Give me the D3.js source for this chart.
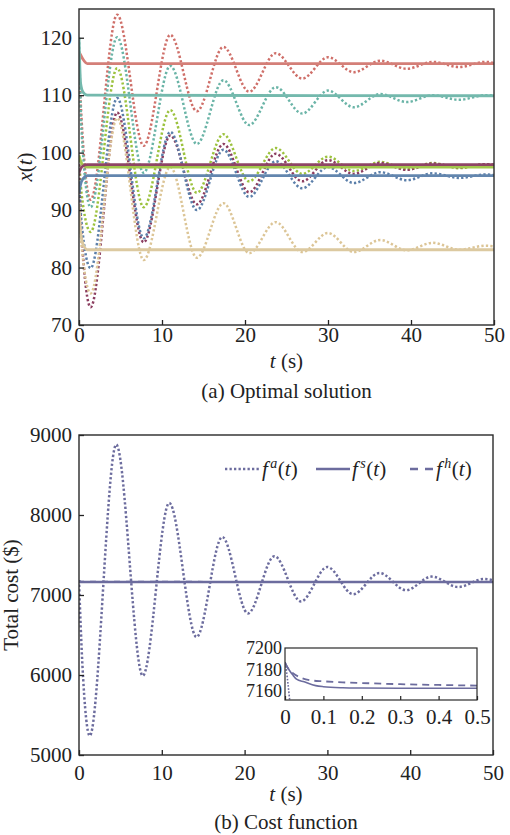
<!DOCTYPE html>
<html><head><meta charset="utf-8">
<script src="https://cdn.jsdelivr.net/npm/d3@7"></script>
<style>
html,body{margin:0;padding:0;background:#fff;}
svg, svg text{font-family:"Liberation Serif","Times New Roman","DejaVu Serif",serif !important;}
</style></head>
<body><svg id="c" width="510" height="835"></svg>
<script>
// ---------- data: (a) optimal solution ----------
const xTicks = [0, 10, 20, 30, 40, 50];
const yTicksA = [70, 80, 90, 100, 110, 120];
const seriesNames = ["x1", "x2", "x3", "x4", "x5", "x6"];
// dotted (f^a) trajectories: time knots and values per series
const tDot = [0, 0.3, 1.4, 4.6, 7.8, 11.0, 14.2, 17.4, 20.5, 23.7, 26.9, 30.0, 33.1, 36.3, 39.5, 42.6, 45.8, 49.0, 50];
const dotRed    = [117, 106, 91.8, 124.0, 101.2, 120.5, 107.2, 118.4, 110.6, 117.3, 112.9, 116.6, 114.0, 116.0, 114.6, 115.8, 114.9, 115.8, 115.6];
const dotTeal   = [120, 104, 90.5, 120.1, 96.5, 115.1, 101.5, 112.6, 104.8, 111.4, 106.8, 110.8, 107.9, 110.2, 108.8, 110.0, 109.2, 110.0, 109.9];
const dotGreen  = [99.5, 93, 86.2, 114.7, 90.5, 107.4, 93.0, 103.2, 95.0, 100.8, 96.3, 99.3, 96.8, 98.4, 97.1, 98.2, 97.3, 98.0, 97.9];
const dotMaroon = [98, 86, 73.1, 107.0, 84.4, 103.0, 91.0, 101.5, 93.1, 99.8, 95.0, 98.7, 96.3, 98.2, 97.0, 98.1, 97.4, 98.0, 97.9];
const dotBlue   = [95, 88, 79.9, 109.5, 85.1, 103.6, 90.0, 100.5, 92.3, 98.5, 93.8, 97.5, 94.7, 96.6, 95.2, 96.4, 95.6, 96.2, 96.1];
const dotTan    = [91, 84, 75.5, 106.0, 81.3, 97.5, 81.7, 91.2, 82.5, 87.9, 82.7, 86.0, 82.7, 84.8, 83.0, 84.3, 83.1, 83.8, 83.7];
// solid (f^s) trajectories
const tSol = [0, 0.2, 0.5, 1.0, 50];
const solRed    = [117.5, 117.0, 116.2, 115.5, 115.5];
const solTeal   = [120, 112, 110.5, 110.0, 109.9];
const solGreen  = [99.5, 98.5, 97.8, 97.5, 97.5];
const solMaroon = [96.5, 97.2, 97.7, 97.9, 97.9];
const solBlue   = [93, 94.5, 95.5, 96.0, 96.0];
const solTan    = [91, 86, 84, 83.1, 83.1];

// ---------- data: (b) cost function ----------
const yTicksB = [5000, 6000, 7000, 8000, 9000];
const tCost = [0, 0.4, 1.3, 4.5, 7.7, 10.9, 14.2, 17.3, 20.4, 23.6, 26.8, 30.0, 33.1, 36.3, 39.5, 42.6, 45.8, 48.9, 50];
const costA = [7185, 6150, 5240, 8880, 5990, 8150, 6475, 7725, 6770, 7485, 6920, 7350, 7010, 7275, 7060, 7230, 7100, 7200, 7185];
const tCostS = [0, 0.005, 0.01, 0.02, 0.03, 0.05, 0.08, 0.1, 0.15, 0.2, 0.3, 0.5, 50];
const costS  = [7187, 7183, 7180, 7175, 7171, 7168.5, 7165, 7164, 7163, 7162.7, 7162.5, 7162.5, 7162.5];
const tCostH = [0, 0.01, 0.02, 0.04, 0.065, 0.1, 0.15, 0.2, 0.3, 0.4, 0.5, 50];
const costH  = [7186, 7180, 7176.7, 7172.5, 7170, 7169, 7168, 7167.4, 7166.3, 7165.6, 7165, 7163];
const tCostAInset = [0, 0.004, 0.008, 0.012, 0.016];
const costAInset  = [7186, 7178, 7166, 7152, 7138];
const insetXTicks = [0, 0.1, 0.2, 0.3, 0.4, 0.5];
const insetYTicks = [7160, 7180, 7200];
const legendLabels = ["a", "s", "h"];

// ---------- styles ----------
const dotColors = ["#cf6f69", "#6ab4a7", "#9cc23e", "#8c3e60", "#5b7faa", "#dcc596"];
const solColors = ["#d47f78", "#74b9ad", "#a3c74c", "#8f4565", "#6386ae", "#dcc9a0"];
const costColor = "#6c6c9e";
const FONT = 21;
const FF = "Liberation Serif, Times New Roman, DejaVu Serif, serif";

const svg = d3.select("#c");
const zip = (ts, vs) => ts.map((t, i) => [t, vs[i]]);

function styleAxis(s, size) {
  s.attr("font-family", FF);
  s.select(".domain").remove();
  s.selectAll("text").attr("font-size", size || FONT).attr("font-family", FF).attr("fill", "#222");
  s.selectAll("line").attr("stroke", "#222").attr("stroke-width", 1.3);
}

function frameAxes(g, x, y, xt, yt, l, r, t, b, xPad) {
  g.append("g").attr("transform", `translate(0,${b})`)
    .call(d3.axisBottom(x).tickValues(xt).tickSizeInner(-5).tickSizeOuter(0).tickPadding(xPad))
    .call(styleAxis);
  g.append("g").attr("transform", `translate(${l},0)`)
    .call(d3.axisLeft(y).tickValues(yt).tickFormat(d3.format("d")).tickSizeInner(-5).tickSizeOuter(0).tickPadding(7))
    .call(styleAxis);
  g.append("rect").attr("x", l).attr("y", t).attr("width", r - l).attr("height", b - t)
    .attr("fill", "none").attr("stroke", "#2a2a2a").attr("stroke-width", 1.4);
}

function txt(g) {
  return g.append("text").attr("font-size", FONT).attr("font-family", FF).attr("fill", "#222");
}

// ---------- chart (a) ----------
{
  const L = 79, R = 494, T = 9, B = 325;
  const x = d3.scaleLinear().domain([0, 50]).range([L, R]);
  const y = d3.scaleLinear().domain([70, 125]).range([B, T]);
  const g = svg.append("g");
  svg.append("clipPath").attr("id", "clipA").append("rect").attr("x", L).attr("y", T).attr("width", R - L).attr("height", B - T);
  const line = d3.line().x(d => x(d[0])).y(d => y(d[1])).curve(d3.curveMonotoneX);
  const dots = [dotRed, dotTeal, dotGreen, dotMaroon, dotBlue, dotTan];
  const sols = [solRed, solTeal, solGreen, solMaroon, solBlue, solTan];
  const lg = g.append("g").attr("clip-path", "url(#clipA)");
  dots.forEach((v, i) => {
    lg.append("path").attr("d", line(zip(tDot, v))).attr("fill", "none")
      .attr("stroke", dotColors[i]).attr("stroke-width", 2.5).attr("stroke-dasharray", "2.3,2.2");
  });
  sols.forEach((v, i) => {
    lg.append("path").attr("d", line(zip(tSol, v))).attr("fill", "none")
      .attr("stroke", solColors[i]).attr("stroke-width", 2.8);
  });
  frameAxes(g, x, y, xTicks, yTicksA, L, R, T, B, 2);
  const xl = txt(g).attr("text-anchor", "middle").attr("transform", `translate(32,${(T + B) / 2}) rotate(-90)`);
  xl.append("tspan").attr("font-style", "italic").text("x");
  xl.append("tspan").text("(");
  xl.append("tspan").attr("font-style", "italic").text("t");
  xl.append("tspan").text(")");
  const tl = txt(g).attr("x", (L + R) / 2).attr("y", 368).attr("text-anchor", "middle");
  tl.append("tspan").attr("font-style", "italic").text("t");
  tl.append("tspan").text(" (s)");
  txt(g).attr("x", (L + R) / 2).attr("y", 398).attr("text-anchor", "middle").text("(a) Optimal solution");
}

// ---------- chart (b) ----------
{
  const L = 79, R = 493, T = 435, B = 755;
  const x = d3.scaleLinear().domain([0, 50]).range([L, R]);
  const y = d3.scaleLinear().domain([5000, 9000]).range([B, T]);
  const g = svg.append("g");
  svg.append("clipPath").attr("id", "clipB").append("rect").attr("x", L).attr("y", T).attr("width", R - L).attr("height", B - T);
  const line = d3.line().x(d => x(d[0])).y(d => y(d[1])).curve(d3.curveMonotoneX);
  const lg = g.append("g").attr("clip-path", "url(#clipB)");
  lg.append("path").attr("d", line(zip(tCost, costA))).attr("fill", "none").attr("stroke", costColor)
    .attr("stroke-width", 2.5).attr("stroke-dasharray", "2.3,2.2");
  lg.append("path").attr("d", line(zip(tCostS, costS))).attr("fill", "none").attr("stroke", costColor).attr("stroke-width", 2.6);
  lg.append("path").attr("d", line(zip(tCostH, costH))).attr("fill", "none").attr("stroke", costColor)
    .attr("stroke-width", 2).attr("stroke-dasharray", "6,6");
  frameAxes(g, x, y, xTicks, yTicksB, L, R, T, B, 10);

  txt(g).attr("text-anchor", "middle").attr("transform", `translate(18,${(T + B) / 2}) rotate(-90)`).text("Total cost ($)");
  const tl = txt(g).attr("x", (L + R) / 2).attr("y", 801).attr("text-anchor", "middle");
  tl.append("tspan").attr("font-style", "italic").text("t");
  tl.append("tspan").text(" (s)");
  txt(g).attr("x", (L + R) / 2).attr("y", 829).attr("text-anchor", "middle").text("(b) Cost function");

  // legend
  const legY = 469;
  const items = [
    {x0: 225, x1: 260, dash: "2.3,2.2", w: 2.5, tx: 262},
    {x0: 316, x1: 350, dash: null, w: 2.6, tx: 352},
    {x0: 410, x1: 434, dash: "8,7", w: 2.4, tx: 436}
  ];
  items.forEach((it, i) => {
    const ln = g.append("line").attr("x1", it.x0).attr("x2", it.x1).attr("y1", legY).attr("y2", legY)
      .attr("stroke", costColor).attr("stroke-width", it.w);
    if (it.dash) ln.attr("stroke-dasharray", it.dash);
    const t = txt(g).attr("x", it.tx).attr("y", legY + 7);
    t.append("tspan").attr("font-style", "italic").text("f");
    t.append("tspan").attr("font-style", "italic").attr("font-size", 14).attr("dx", 2.5).attr("dy", -8).text(legendLabels[i]);
    t.append("tspan").attr("dy", 8).attr("dx", 0.5).text("(");
    t.append("tspan").attr("font-style", "italic").text("t");
    t.append("tspan").text(")");
  });

  // inset
  const iL = 285, iR = 477, iT = 648, iB = 700;
  const ix = d3.scaleLinear().domain([0, 0.5]).range([iL, iR]);
  const iy = d3.scaleLinear().domain([7151.6, 7200]).range([iB, iT]);
  const ig = g.append("g");
  ig.append("rect").attr("x", iL).attr("y", iT).attr("width", iR - iL).attr("height", iB - iT).attr("fill", "#fff");
  svg.append("clipPath").attr("id", "clipI").append("rect").attr("x", iL).attr("y", iT).attr("width", iR - iL).attr("height", iB - iT);
  const il = d3.line().x(d => ix(d[0])).y(d => iy(d[1])).curve(d3.curveMonotoneX);
  const ic = ig.append("g").attr("clip-path", "url(#clipI)");
  ic.append("path").attr("d", il(zip(tCostS.slice(0, -1), costS.slice(0, -1)))).attr("fill", "none").attr("stroke", costColor).attr("stroke-width", 1.6);
  ic.append("path").attr("d", il(zip(tCostH.slice(0, -1), costH.slice(0, -1)))).attr("fill", "none").attr("stroke", costColor)
    .attr("stroke-width", 1.8).attr("stroke-dasharray", "7,5");
  ic.append("path").attr("d", il(zip(tCostAInset, costAInset))).attr("fill", "none").attr("stroke", costColor)
    .attr("stroke-width", 1.6).attr("stroke-dasharray", "1.6,1.6");
  ig.append("g").attr("transform", `translate(0,${iB})`)
    .call(d3.axisBottom(ix).tickValues(insetXTicks).tickFormat(d => d === 0 ? "0" : d3.format(".1f")(d)).tickSizeInner(-4).tickSizeOuter(0).tickPadding(9))
    .call(s => { styleAxis(s); s.selectAll("line").attr("stroke-width", 1.2); });
  ig.append("g").attr("transform", `translate(${iL},0)`)
    .call(d3.axisLeft(iy).tickValues(insetYTicks).tickFormat(d3.format("d")).tickSizeInner(0).tickSizeOuter(0).tickPadding(3))
    .call(s => styleAxis(s, 18));
  ig.append("rect").attr("x", iL).attr("y", iT).attr("width", iR - iL).attr("height", iB - iT)
    .attr("fill", "none").attr("stroke", "#2a2a2a").attr("stroke-width", 1.2);
}
</script></body></html>
